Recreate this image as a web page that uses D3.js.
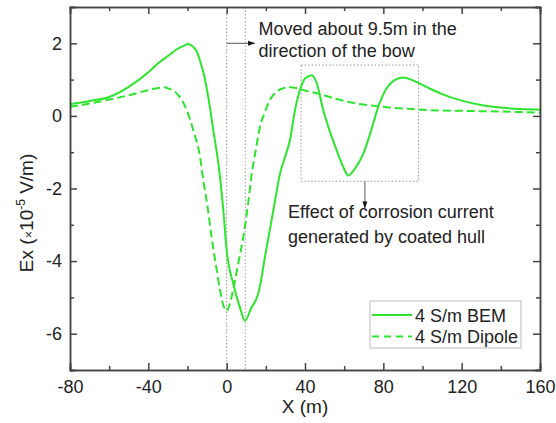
<!DOCTYPE html>
<html>
<head>
<meta charset="utf-8">
<script src="https://cdn.jsdelivr.net/npm/d3@7"></script>
<style>
  body { margin: 0; background: #fff; }
  text { font-family: Arial, "Liberation Sans", sans-serif; fill: #222; }
</style>
</head>
<body>
<div id="chart"></div>
<script>
// data
var bemX = [-80, -70, -60, -50, -40, -35, -30, -25, -22, -19.6, -17.5, -15.3, -13.5, -11.9, -9.4, -6.8,
            -3.8, -1.7, 0, 3.4, 6.8, 9.35, 12.5, 16.1, 20, 24, 27.2, 30, 32.3, 34.9, 37.4, 40, 43.4, 46,
            49.3, 52.5, 56.2, 59.5, 62.1, 65.5, 69.8, 73.5, 77.4, 81.7, 85.5, 90.2, 95, 102, 110, 120,
            130, 140, 150, 160];
var bemY = [0.32, 0.41, 0.52, 0.8, 1.2, 1.45, 1.65, 1.85, 1.93, 1.98, 1.92, 1.78, 1.5, 1.2, 0.52, -0.4,
            -1.5, -2.6, -3.7, -4.63, -5.28, -5.64, -5.3, -4.9, -3.75, -2.55, -1.6, -1.1, -0.67, 0.16, 0.71,
            1.03, 1.12, 0.9, 0.16, -0.4, -0.95, -1.4, -1.64, -1.45, -1.04, -0.45, 0.25, 0.76, 0.98, 1.06,
            0.98, 0.8, 0.6, 0.42, 0.3, 0.23, 0.19, 0.17];

var dipX = [-80, -70, -60, -50, -40, -35, -32.4, -29, -25.5, -22.5, -20.4, -17, -13.6, -12, -9.5, -7.7,
            -5.5, -3.4, -1.5, 0, 1.5, 4.2, 6.5, 8.5, 11, 12.8, 15, 17, 19.5, 22, 25, 28.9, 32.5, 36, 40,
            47.7, 55, 66.4, 75, 83.4, 95, 103.8, 120, 140, 160];
var dipY = [0.25, 0.34, 0.45, 0.57, 0.71, 0.77, 0.79, 0.74, 0.62, 0.4, 0.16, -0.4, -1.13, -1.75, -2.6, -3.34,
            -4.1, -4.8, -5.25, -5.37, -5.2, -4.54, -3.9, -3.34, -2.4, -1.6, -0.9, -0.3, 0.1, 0.43, 0.65,
            0.76, 0.79, 0.76, 0.7, 0.6, 0.48, 0.34, 0.28, 0.23, 0.19, 0.16, 0.14, 0.12, 0.09];

var xTicks = [-80, -40, 0, 40, 80, 120, 160];
var xMinor = [-60, -20, 20, 60, 100, 140];
var yTicks = [-6, -4, -2, 0, 2];
var yMinor = [-7, -5, -3, -1, 1, 3];

var seriesNames = ["4 S/m BEM", "4 S/m Dipole"];
var shiftLines = [0, 9.5];
var noteMoved = ["Moved about 9.5m in the", "direction of the bow"];
var noteEffect = ["Effect of corrosion current", "generated by coated hull"];
var effectBox = {x0: 38, x1: 98, y0: -1.8, y1: 1.4};

var W = 556, H = 423,
    margin = {top: 7, right: 16, bottom: 53, left: 70},
    w = W - margin.left - margin.right,
    h = H - margin.top - margin.bottom;

var green = "#2ee52e", axisColor = "#444";

var svg = d3.select("#chart").append("svg")
    .attr("width", W).attr("height", H);

var defs = svg.append("defs");
defs.append("marker").attr("id", "head")
    .attr("viewBox", "0 0 10 10").attr("refX", 10).attr("refY", 5)
    .attr("markerWidth", 7).attr("markerHeight", 7).attr("orient", "auto")
  .append("path").attr("d", "M0,1.5L10,5L0,8.5Z").attr("fill", "#111");

var g = svg.append("g").attr("transform", "translate(" + margin.left + "," + margin.top + ")");

var x = d3.scaleLinear().domain([-80, 160]).range([0, w]);
var y = d3.scaleLinear().domain([-7, 3]).range([h, 0]);

// plain hyphen for negatives, as in the original
var fmt = function(d) { return String(d); };

// gray dotted guides at the two minima
g.selectAll(".guide").data(shiftLines).enter().append("line")
    .attr("x1", function(d) { return x(d); }).attr("x2", function(d) { return x(d); })
    .attr("y1", 0).attr("y2", h)
    .attr("stroke", "#9a9a9a").attr("stroke-width", 1).attr("stroke-dasharray", "1.5,2");

// dotted box round the corrosion effect
g.append("rect")
    .attr("x", x(effectBox.x0)).attr("y", y(effectBox.y1))
    .attr("width", x(effectBox.x1) - x(effectBox.x0))
    .attr("height", y(effectBox.y0) - y(effectBox.y1))
    .attr("fill", "none").attr("stroke", "#9a9a9a").attr("stroke-width", 1)
    .attr("stroke-dasharray", "1.5,2");

// curves
var line = d3.line().curve(d3.curveMonotoneX)
    .x(function(d) { return x(d[0]); }).y(function(d) { return y(d[1]); });

g.append("path").datum(d3.zip(dipX, dipY))
    .attr("d", line).attr("fill", "none").attr("stroke", green)
    .attr("stroke-width", 2).attr("stroke-dasharray", "8,4");
g.append("path").datum(d3.zip(bemX, bemY))
    .attr("d", line).attr("fill", "none").attr("stroke", green)
    .attr("stroke-width", 2);

// axes, ticks pointing inward on all four sides
function styleAxis(sel) {
    sel.select(".domain").attr("stroke", axisColor).attr("stroke-width", 1.5);
    sel.selectAll(".tick line").attr("stroke", axisColor).attr("stroke-width", 1.5);
    sel.selectAll(".tick text").attr("fill", "#222").style("font-size", "18px")
        .style("font-family", "Arial, 'Liberation Sans', sans-serif");
}
g.append("g").attr("transform", "translate(0," + h + ")")
    .call(d3.axisBottom(x).tickValues(xTicks).tickSize(-7).tickPadding(10).tickFormat(fmt))
    .call(styleAxis);
g.append("g").attr("transform", "translate(0," + h + ")")
    .call(d3.axisBottom(x).tickValues(xMinor).tickSize(-4).tickFormat(""))
    .call(styleAxis);
g.append("g")
    .call(d3.axisTop(x).tickValues(xTicks).tickSize(-7).tickFormat(""))
    .call(styleAxis);
g.append("g")
    .call(d3.axisTop(x).tickValues(xMinor).tickSize(-4).tickFormat(""))
    .call(styleAxis);
g.append("g")
    .call(d3.axisLeft(y).tickValues(yTicks).tickSize(-7).tickPadding(8).tickFormat(fmt))
    .call(styleAxis);
g.append("g")
    .call(d3.axisLeft(y).tickValues(yMinor).tickSize(-4).tickFormat(""))
    .call(styleAxis);
g.append("g").attr("transform", "translate(" + w + ",0)")
    .call(d3.axisRight(y).tickValues(yTicks).tickSize(-7).tickFormat(""))
    .call(styleAxis);
g.append("g").attr("transform", "translate(" + w + ",0)")
    .call(d3.axisRight(y).tickValues(yMinor).tickSize(-4).tickFormat(""))
    .call(styleAxis);

// annotation: shift arrow and text
g.append("line")
    .attr("x1", x(0)).attr("x2", x(14.5)).attr("y1", y(2)).attr("y2", y(2))
    .attr("stroke", "#555").attr("stroke-width", 1).attr("marker-end", "url(#head)");
g.append("text").attr("x", x(16.3)).attr("y", 28)
    .style("font-size", "18px")
  .selectAll("tspan").data(noteMoved).enter().append("tspan")
    .attr("x", x(16.3)).attr("dy", function(d, i) { return i ? 21.5 : 0; })
    .text(function(d) { return d; });

// annotation: corrosion effect arrow and text
g.append("line")
    .attr("x1", x(70.6)).attr("x2", x(70.6))
    .attr("y1", y(effectBox.y0)).attr("y2", y(-2.55))
    .attr("stroke", "#555").attr("stroke-width", 1).attr("marker-end", "url(#head)");
g.append("text").attr("y", 211)
    .style("font-size", "18px")
  .selectAll("tspan").data(noteEffect).enter().append("tspan")
    .attr("x", x(31.3)).attr("dy", function(d, i) { return i ? 24.5 : 0; })
    .text(function(d) { return d; });

// legend
var lg = g.append("g").attr("transform", "translate(" + (370 - margin.left) + "," + (301 - margin.top) + ")");
lg.append("rect").attr("width", 151).attr("height", 47)
    .attr("fill", "#fff").attr("stroke", "#bbb").attr("stroke-width", 1);
var rows = lg.selectAll(".row").data(seriesNames).enter().append("g")
    .attr("transform", function(d, i) { return "translate(0," + (14 + i * 21.5) + ")"; });
rows.append("line").attr("x1", 2).attr("x2", 42).attr("y1", 0).attr("y2", 0)
    .attr("stroke", green).attr("stroke-width", 2)
    .attr("stroke-dasharray", function(d, i) { return i ? "7,5" : null; });
rows.append("text").attr("x", 45).attr("y", 6.5).style("font-size", "18px")
    .text(function(d) { return d; });

// axis titles
svg.append("text").attr("x", margin.left + w / 2).attr("y", 413)
    .attr("text-anchor", "middle").style("font-size", "19px").text("X (m)");
var yt = svg.append("text").attr("transform", "translate(33,213) rotate(-90)")
    .attr("text-anchor", "middle").style("font-size", "19px");
yt.append("tspan").text("Ex (");
yt.append("tspan").style("font-size", "13px").text("\u00d7");
yt.append("tspan").text("10");
yt.append("tspan").attr("dy", -8).style("font-size", "12px").text("-5");
yt.append("tspan").attr("dy", 8).text(" V/m)");
</script>
</body>
</html>
